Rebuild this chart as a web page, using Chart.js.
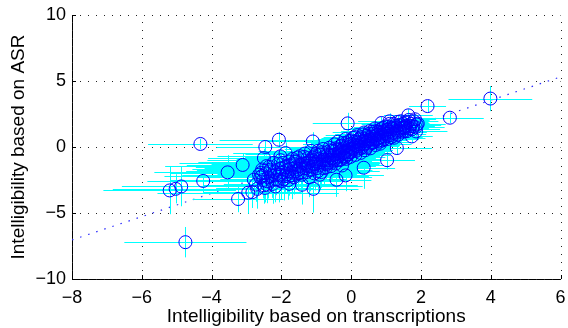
<!DOCTYPE html>
<html>
<head>
<meta charset="utf-8">
<script src="https://cdn.jsdelivr.net/npm/chart.js@4.4.0/dist/chart.umd.min.js"></script>
<style>
  html, body { margin: 0; padding: 0; background: #fff; }
  #chart { display: block; }
</style>
</head>
<body>
<canvas id="chart" width="568" height="328"></canvas>
<script>
// values (x = transcriptions, y = ASR)
// isolated points
const outlierX = [
  -4.75, -5.20, -5.03, -4.87, -4.24, -4.32, -3.54, -3.11, -3.24, -2.95,
  -2.83, -2.69, -2.79, -2.64, -2.73, -2.55, -2.31, -2.41, -2.17, -2.47,
  -2.07, -2.46, -2.50, -1.88, -2.03, -1.60, -1.79, -1.77, -1.41, -1.08,
  -0.42, -0.16, 0.36, 1.03, 1.31, -0.10, -1.10, 1.64, 1.91, 1.74,
  2.19, 2.83, 3.99, 1.10, 0.87, 1.53, 1.86, -0.90
];
const outlierY = [
  -7.21, -3.29, -3.17, -2.99, -2.57, 0.23, -1.92, -1.36, -3.94, -3.46,
  -3.42, -3.17, -2.48, -2.10, -2.85, -2.18, -1.72, -2.86, -2.99, -3.10,
  0.55, 0.00, -0.84, -0.46, -0.71, -1.09, -2.23, -2.79, -2.86, -3.17,
  -2.48, -2.15, -1.57, -1.00, -0.08, 1.79, 0.42, 2.40, 1.77, 0.80,
  3.10, 2.22, 3.67, 1.95, 1.82, 1.44, 1.18, -2.10
];
const outlierXErr = [
  1.75, 1.90, 1.80, 1.70, 1.60, 1.50, 2.10, 1.60, 1.30, 2.60,
  1.40, 2.90, 2.40, 2.20, 1.50, 2.80, 2.10, 1.60, 2.50, 1.40,
  1.70, 1.40, 1.60, 1.50, 1.80, 1.70, 2.30, 1.30, 1.60, 1.20,
  1.00, 1.10, 0.90, 0.80, 1.00, 1.00, 1.30, 0.70, 0.80, 0.60,
  0.53, 0.97, 1.20, 0.90, 0.80, 0.70, 0.90, 1.30
];
const outlierYErr = [
  1.15, 1.80, 1.10, 1.50, 0.90, 0.40, 1.30, 0.90, 1.00, 1.60,
  1.20, 1.50, 1.10, 0.80, 1.30, 1.00, 0.90, 1.40, 1.20, 1.10,
  0.60, 0.50, 0.70, 0.80, 0.60, 1.00, 1.20, 0.90, 1.50, 1.80,
  1.30, 1.20, 1.60, 0.70, 0.50, 0.80, 0.70, 0.50, 0.40, 0.50,
  0.50, 0.40, 0.95, 0.60, 0.50, 0.60, 0.50, 1.10
];

// the dense band, first pass
const bandX = [
  -2.60, -2.55, -2.50, -2.45, -2.40, -2.35, -2.30, -2.25, -2.20, -2.15,
  -2.10, -2.05, -2.00, -2.00, -1.95, -1.90, -1.85, -1.80, -1.75, -1.70,
  -1.68, -1.65, -1.60, -1.55, -1.52, -1.50, -1.47, -1.45, -1.42, -1.40,
  -1.36, -1.33, -1.30, -1.27, -1.25, -1.22, -1.20, -1.17, -1.15, -1.12,
  -1.10, -1.07, -1.05, -1.02, -1.00, -0.98, -0.95, -0.93, -0.90, -0.88,
  -0.85, -0.82, -0.80, -0.78, -0.75, -0.72, -0.70, -0.68, -0.65, -0.62,
  -0.60, -0.58, -0.55, -0.53, -0.50, -0.48, -0.46, -0.44, -0.42, -0.40,
  -0.38, -0.36, -0.34, -0.32, -0.30, -0.28, -0.26, -0.24, -0.22, -0.20,
  -0.18, -0.16, -0.14, -0.12, -0.10, -0.08, -0.06, -0.04, -0.02, 0.00,
  0.02, 0.05, 0.07, 0.10, 0.12, 0.15, 0.17, 0.20, 0.22, 0.25,
  0.27, 0.30, 0.32, 0.35, 0.37, 0.40, 0.42, 0.45, 0.48, 0.50,
  0.53, 0.55, 0.58, 0.60, 0.63, 0.65, 0.68, 0.70, 0.73, 0.75,
  0.78, 0.80, 0.83, 0.85, 0.88, 0.90, 0.93, 0.95, 0.98, 1.00,
  1.03, 1.06, 1.10, 1.13, 1.16, 1.20, 1.23, 1.26, 1.30, 1.33,
  1.36, 1.40, 1.43, 1.47, 1.50, 1.55, 1.60, 1.65, 1.70, 1.75,
  1.80, 1.85
];
const bandY = [
  -2.30, -1.70, -2.90, -2.00, -2.60, -1.50, -2.20, -2.80, -1.90, -2.45,
  -1.30, -2.10, -2.60, -1.60, -1.20, -2.20, -1.75, -2.50, -1.40, -1.95,
  -0.90, -2.30, -1.55, -1.10, -2.00, -1.70, -0.70, -1.35, -2.10, -1.00,
  -1.60, -0.50, -1.25, -1.90, -0.85, -1.45, -2.30, -1.05, -0.30, -1.70,
  -0.80, -1.30, -2.00, -0.55, -1.10, -1.60, -0.30, -0.90, -1.35, -0.60,
  -1.90, -1.00, -0.15, -1.25, -0.70, -1.55, -0.40, -0.95, -1.20, -0.05,
  -0.65, -1.45, -0.85, -0.30, -1.05, 0.20, -0.55, -1.25, -0.20, -0.80,
  0.40, -0.45, -1.00, 0.05, -0.60, -0.25, -1.40, 0.30, -0.70, -0.10,
  -0.45, 0.60, -0.90, -0.30, 0.15, -0.55, 0.45, -0.15, -0.75, 0.25,
  -0.35, 0.70, -0.05, 0.40, -0.60, 0.10, 0.90, -0.20, 0.55, 0.20,
  -0.45, 0.75, 0.00, 0.45, 1.10, -0.25, 0.30, 0.85, 0.10, 0.55,
  1.20, -0.10, 0.80, 0.30, 1.00, 0.60, 1.40, 0.15, 0.90, 0.45,
  1.15, 0.70, 0.25, 1.35, 0.95, 0.50, 1.20, 0.80, 1.55, 1.00,
  0.60, 1.30, 1.75, 0.90, 1.45, 1.10, 0.70, 1.60, 1.25, 1.90,
  0.95, 1.40, 1.70, 1.15, 1.50, 1.85, 1.20, 2.05, 1.60, 1.35,
  1.95, 1.50
];
const bandXErr = [
  1.8, 2.0, 1.6, 1.9, 1.5, 2.1, 1.7, 1.4, 2.0, 1.6,
  1.9, 1.5, 1.7, 2.2, 1.6, 1.8, 1.4, 1.9, 1.7, 1.5,
  1.6, 1.8, 1.4, 1.7, 1.9, 1.5, 1.6, 1.3, 1.8, 1.5,
  1.4, 1.7, 1.5, 1.3, 1.6, 1.2, 1.8, 1.4, 1.5, 1.3,
  1.3, 1.5, 1.2, 1.6, 1.1, 1.4, 1.3, 1.2, 1.5, 1.0,
  1.2, 1.4, 1.1, 1.3, 1.0, 1.2, 0.9, 1.3, 1.1, 1.0,
  1.1, 0.9, 1.2, 1.0, 1.1, 0.9, 1.0, 1.2, 0.8, 1.0,
  0.9, 1.0, 1.1, 0.8, 1.0, 0.9, 1.2, 0.8, 1.0, 0.9,
  0.9, 0.8, 1.0, 0.9, 0.8, 1.0, 0.7, 0.9, 1.0, 0.8,
  0.8, 0.9, 0.7, 0.8, 1.0, 0.7, 0.9, 0.8, 0.7, 0.8,
  0.9, 0.7, 0.8, 0.7, 0.9, 0.8, 0.7, 0.8, 0.9, 0.7,
  0.8, 0.9, 0.7, 0.8, 0.7, 0.8, 0.9, 0.7, 0.8, 0.7,
  0.7, 0.8, 0.9, 0.7, 0.8, 0.7, 0.8, 0.7, 0.9, 0.7,
  0.8, 0.7, 0.8, 0.7, 0.6, 0.8, 0.9, 0.7, 0.8, 0.6,
  0.7, 0.6, 0.8, 0.7, 0.6, 0.7, 0.8, 0.6, 0.7, 0.8,
  0.7, 0.8
];
const bandYErr = [
  1.2, 0.8, 1.4, 1.0, 1.3, 0.7, 1.1, 1.5, 0.9, 1.2,
  0.8, 1.1, 1.4, 0.9, 0.7, 1.2, 1.0, 1.5, 0.8, 1.1,
  0.7, 1.3, 0.9, 0.8, 1.2, 1.0, 0.6, 0.9, 1.4, 0.8,
  1.0, 0.6, 0.9, 1.2, 0.7, 1.0, 1.5, 0.8, 0.6, 1.1,
  0.7, 0.9, 1.3, 0.6, 0.8, 1.1, 0.5, 0.7, 0.9, 0.6,
  1.2, 0.8, 0.5, 0.9, 0.6, 1.0, 0.5, 0.7, 0.8, 0.4,
  0.6, 1.0, 0.7, 0.5, 0.8, 0.4, 0.6, 0.9, 0.5, 0.7,
  0.4, 0.5, 0.8, 0.4, 0.6, 0.5, 1.0, 0.4, 0.6, 0.5,
  0.5, 0.5, 0.7, 0.4, 0.5, 0.6, 0.4, 0.5, 0.7, 0.4,
  0.5, 0.5, 0.4, 0.4, 0.6, 0.4, 0.5, 0.5, 0.4, 0.4,
  0.6, 0.5, 0.4, 0.4, 0.5, 0.5, 0.4, 0.5, 0.4, 0.4,
  0.5, 0.6, 0.4, 0.4, 0.5, 0.4, 0.5, 0.5, 0.4, 0.4,
  0.4, 0.4, 0.5, 0.5, 0.4, 0.4, 0.5, 0.4, 0.5, 0.4,
  0.4, 0.4, 0.5, 0.4, 0.4, 0.3, 0.5, 0.4, 0.4, 0.5,
  0.4, 0.3, 0.4, 0.4, 0.4, 0.5, 0.4, 0.4, 0.4, 0.3,
  0.4, 0.3
];

// the dense band, second pass (points between the first ones)
const band2X = [
  -2.58, -2.52, -2.43, -2.38, -2.33, -2.27, -2.22, -2.18, -2.12, -2.08,
  -2.02, -1.97, -1.93, -1.88, -1.83, -1.78, -1.73, -1.69, -1.63, -1.58,
  -1.54, -1.49, -1.44, -1.38, -1.34, -1.29, -1.24, -1.19, -1.14, -1.09,
  -1.04, -0.99, -0.96, -0.91, -0.87, -0.83, -0.79, -0.76, -0.71, -0.67,
  -0.63, -0.59, -0.56, -0.52, -0.49, -0.45, -0.41, -0.37, -0.33, -0.29,
  -0.27, -0.23, -0.19, -0.15, -0.11, -0.07, -0.03, 0.01, 0.04, 0.08,
  0.11, 0.14, 0.18, 0.21, 0.24, 0.28, 0.31, 0.34, 0.38, 0.41,
  0.44, 0.47, 0.51, 0.54, 0.57, 0.61, 0.64, 0.67, 0.71, 0.74,
  0.77, 0.81, 0.84, 0.87, 0.91, 0.94, 0.97, 1.01, 1.04, 1.08,
  1.11, 1.15, 1.18, 1.22, 1.25, 1.29, 1.32, 1.35, 1.39, 1.42,
  1.46, 1.49, 1.53, 1.57, 1.62, 1.67, 1.72, 1.78, 1.83, 1.88
];
const band2Y = [
  -1.95, -2.50, -1.45, -2.30, -1.85, -2.55, -1.20, -2.15, -1.75, -2.50,
  -1.00, -1.90, -2.45, -1.50, -2.05, -1.10, -1.65, -2.15, -1.30, -1.85,
  -0.80, -1.45, -1.95, -1.25, -0.75, -1.60, -1.15, -1.75, -0.95, -1.50,
  -0.70, -1.25, -1.85, -0.55, -1.15, -0.40, -1.60, -0.95, -1.30, -0.60,
  -1.00, -0.25, -1.20, -0.60, -0.95, -0.10, -1.00, -0.70, -0.35, -0.95,
  0.10, -0.45, -0.80, 0.30, -0.60, 0.00, -0.40, 0.50, -0.15, 0.15,
  0.75, -0.30, 0.35, 0.05, 0.65, -0.10, 0.40, 0.95, 0.20, 0.60,
  -0.05, 0.45, 1.00, 0.25, 0.60, 1.15, 0.35, 0.80, 1.20, 0.60,
  0.95, 0.40, 1.10, 0.75, 1.45, 0.60, 1.05, 1.30, 0.85, 1.55,
  1.15, 0.75, 1.35, 1.75, 1.00, 1.45, 1.15, 1.65, 1.25, 1.95,
  1.45, 1.75, 1.20, 1.60, 1.90, 1.40, 1.75, 1.55, 2.10, 1.70
];
const band2XErr = [
  2.6, 2.2, 2.9, 1.8, 2.4, 2.0, 2.7, 1.9, 2.3, 2.5,
  2.1, 2.5, 1.8, 2.3, 2.0, 2.6, 1.9, 2.2, 1.7, 2.4,
  1.9, 2.2, 1.6, 2.0, 1.7, 2.3, 1.5, 1.8, 2.1, 1.6,
  1.5, 1.8, 1.4, 1.6, 1.3, 1.7, 1.2, 1.5, 1.4, 1.2,
  1.3, 1.1, 1.4, 1.2, 1.0, 1.3, 1.1, 1.2, 1.0, 1.1,
  1.0, 1.1, 0.9, 1.0, 1.2, 0.9, 1.0, 0.8, 1.1, 0.9,
  0.9, 1.0, 0.8, 0.9, 0.8, 1.0, 0.9, 0.8, 0.9, 0.8,
  0.9, 0.8, 0.9, 0.7, 0.8, 0.9, 0.7, 0.8, 1.0, 0.7,
  0.8, 0.9, 0.7, 0.8, 0.9, 1.0, 0.7, 0.8, 0.9, 0.7,
  0.8, 0.9, 0.7, 0.8, 0.9, 0.7, 0.8, 0.6, 0.9, 0.7,
  0.7, 0.8, 0.9, 0.7, 0.6, 0.8, 0.7, 0.9, 0.6, 0.7
];
const band2YErr = [
  1.0, 1.4, 0.8, 1.6, 1.1, 1.3, 0.9, 1.5, 1.0, 1.7,
  0.8, 1.2, 1.6, 1.0, 1.4, 0.7, 1.1, 1.8, 0.9, 1.3,
  0.7, 1.0, 1.5, 0.9, 0.6, 1.2, 0.8, 1.6, 0.7, 1.1,
  0.6, 0.9, 1.7, 0.5, 1.0, 0.5, 1.4, 0.7, 1.1, 0.5,
  0.8, 0.4, 1.2, 0.5, 0.9, 0.4, 1.1, 0.6, 0.5, 0.9,
  0.4, 0.5, 0.9, 0.5, 0.7, 0.4, 0.6, 0.5, 0.4, 0.5,
  0.5, 0.6, 0.4, 0.5, 0.5, 0.6, 0.4, 0.5, 0.4, 0.5,
  0.5, 0.4, 0.5, 0.4, 0.4, 0.5, 0.4, 0.4, 0.5, 0.4,
  0.4, 0.5, 0.4, 0.4, 0.5, 0.4, 0.4, 0.5, 0.4, 0.4,
  0.4, 0.4, 0.4, 0.5, 0.4, 0.4, 0.3, 0.4, 0.4, 0.5,
  0.4, 0.3, 0.4, 0.4, 0.5, 0.4, 0.3, 0.4, 0.4, 0.3
];

// dotted reference line
const fitLineX = [-8, 6];
const fitLineY = [-7.04, 5.31];

const xTicks = [-8, -6, -4, -2, 0, 2, 4, 6];
const yTicks = [-10, -5, 0, 5, 10];

const allX = outlierX.concat(bandX, band2X);
const allY = outlierY.concat(bandY, band2Y);
const allXErr = outlierXErr.concat(bandXErr, band2XErr);
const allYErr = outlierYErr.concat(bandYErr, band2YErr);

const FONT = "'Liberation Sans', Arial, Helvetica, sans-serif";

const fmtTick = (v) => (v < 0 ? "\u2212" + Math.abs(v) : String(v));

const crisp = (p) => Math.round(p) + 0.5;

// dotted grid, drawn by hand so the dots look like matlab's
const dottedGrid = {
  id: "dottedGrid",
  beforeDatasetsDraw(chart) {
    const { ctx, chartArea, scales } = chart;
    ctx.save();
    ctx.strokeStyle = "#222";
    ctx.lineWidth = 1;
    ctx.setLineDash([1, 7]);
    ctx.beginPath();
    xTicks.forEach((v) => {
      const px = crisp(scales.x.getPixelForValue(v));
      ctx.moveTo(px, chartArea.bottom);
      ctx.lineTo(px, chartArea.top);
    });
    yTicks.forEach((v) => {
      const py = crisp(scales.y.getPixelForValue(v));
      ctx.moveTo(chartArea.left, py);
      ctx.lineTo(chartArea.right, py);
    });
    ctx.stroke();
    ctx.restore();
  },
};

// cyan error bars, drawn just before the circles
const errorBars = {
  id: "errorBars",
  beforeDatasetDraw(chart, args) {
    if (args.index !== 1) return;
    const { ctx, chartArea, scales } = chart;
    const sx = scales.x;
    const sy = scales.y;
    ctx.save();
    ctx.beginPath();
    ctx.rect(chartArea.left, chartArea.top, chartArea.width, chartArea.height);
    ctx.clip();
    ctx.strokeStyle = "#00ffff";
    ctx.lineWidth = 1;
    ctx.beginPath();
    allX.forEach((x, i) => {
      const y = allY[i];
      const px = crisp(sx.getPixelForValue(x));
      const py = crisp(sy.getPixelForValue(y));
      ctx.moveTo(sx.getPixelForValue(x - allXErr[i]), py);
      ctx.lineTo(sx.getPixelForValue(x + allXErr[i]), py);
      ctx.moveTo(px, sy.getPixelForValue(y - allYErr[i]));
      ctx.lineTo(px, sy.getPixelForValue(y + allYErr[i]));
    });
    ctx.stroke();
    ctx.restore();
  },
};

// matlab style ticks pointing into the plot
const innerTicks = {
  id: "innerTicks",
  afterDraw(chart) {
    const { ctx, chartArea, scales } = chart;
    ctx.save();
    ctx.strokeStyle = "#000";
    ctx.lineWidth = 1;
    ctx.beginPath();
    xTicks.forEach((v) => {
      const px = crisp(scales.x.getPixelForValue(v));
      ctx.moveTo(px, chartArea.bottom);
      ctx.lineTo(px, chartArea.bottom - 4);
    });
    yTicks.forEach((v) => {
      const py = crisp(scales.y.getPixelForValue(v));
      ctx.moveTo(chartArea.left, py);
      ctx.lineTo(chartArea.left + 4, py);
    });
    ctx.stroke();
    ctx.restore();
  },
};

const ctx = document.getElementById("chart");

new Chart(ctx, {
  type: "scatter",
  data: {
    datasets: [
      {
        type: "line",
        data: fitLineX.map((x, i) => ({ x: x, y: fitLineY[i] })),
        borderColor: "#2a2aff",
        borderWidth: 1.2,
        borderDash: [1.5, 7],
        pointRadius: 0,
        fill: false,
        order: 2,
      },
      {
        data: allX.map((x, i) => ({ x: x, y: allY[i] })),
        pointStyle: "circle",
        pointRadius: 6.5,
        pointBorderWidth: 1,
        pointBorderColor: "#0000ff",
        pointBackgroundColor: "rgba(0,0,0,0)",
        order: 1,
      },
    ],
  },
  options: {
    responsive: false,
    devicePixelRatio: 1,
    animation: false,
    events: [],
    layout: { padding: { top: 15, right: -4, left: 0, bottom: 0 } },
    plugins: {
      legend: { display: false },
      tooltip: { enabled: false },
    },
    scales: {
      x: {
        type: "linear",
        min: -8,
        max: 6,
        afterBuildTicks: (s) => {
          s.ticks = xTicks.map((v) => ({ value: v }));
        },
        afterFit: (s) => {
          s.height = 49;
          s.paddingLeft = 0;
          s.paddingRight = 0;
        },
        grid: { display: false, drawTicks: false },
        border: { display: true, color: "#000", width: 1 },
        ticks: {
          color: "#000",
          padding: 8,
          maxRotation: 0,
          font: { family: FONT, size: 18 },
          callback: fmtTick,
        },
        title: {
          display: true,
          text: "Intelligibility based on transcriptions",
          color: "#000",
          font: { family: FONT, size: 19 },
          padding: { top: 0, bottom: 0 },
        },
      },
      y: {
        type: "linear",
        min: -10,
        max: 10,
        afterBuildTicks: (s) => {
          s.ticks = yTicks.map((v) => ({ value: v }));
        },
        afterFit: (s) => {
          s.width = 72;
          s.paddingTop = 0;
          s.paddingBottom = 0;
        },
        grid: { display: false, drawTicks: false },
        border: { display: true, color: "#000", width: 1 },
        ticks: {
          color: "#000",
          padding: 6,
          font: { family: FONT, size: 18 },
          callback: fmtTick,
        },
        title: {
          display: true,
          text: "Intelligibility based on ASR",
          color: "#000",
          font: { family: FONT, size: 19 },
          padding: { top: 7, bottom: 0 },
        },
      },
    },
  },
  plugins: [dottedGrid, errorBars, innerTicks],
});
</script>
</body>
</html>
